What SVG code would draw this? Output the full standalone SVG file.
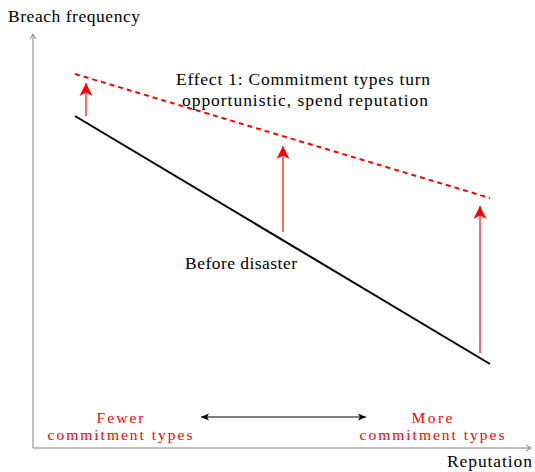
<svg xmlns="http://www.w3.org/2000/svg" width="535" height="472" viewBox="0 0 535 472">
  <style>
    text { font-family: "Liberation Serif", "Times New Roman", serif; font-size: 17.5px; fill: #000; }
    .red { fill: #ff0000; font-size: 15.5px; }
    .axis { stroke: #808080; stroke-width: 1; fill: none; }
    .up { stroke: #ff0000; stroke-width: 1.2; fill: none; }
  </style>
  <defs>
    <marker id="axisHead" markerWidth="8" markerHeight="8" refX="6" refY="4" orient="auto" markerUnits="userSpaceOnUse">
      <path d="M1,1 L6,4 L1,7" fill="none" stroke="#808080" stroke-width="1"/>
    </marker>
    <marker id="redHead" markerWidth="14" markerHeight="16" refX="13" refY="7" orient="auto" markerUnits="userSpaceOnUse">
      <path d="M13,7 L0,0.5 L3.5,7 L0,13.5 Z" fill="#ff0000"/>
    </marker>
    <marker id="blackHead" markerWidth="10" markerHeight="10" refX="8" refY="4" orient="auto-start-reverse" markerUnits="userSpaceOnUse">
      <path d="M8,4 L0,0.5 L2,4 L0,7.5 Z" fill="#000"/>
    </marker>
  </defs>

  <g id="connectors">
    <!-- axes -->
    <line class="axis" x1="33" y1="448" x2="33" y2="34" marker-end="url(#axisHead)"/>
    <line class="axis" x1="33" y1="448" x2="531" y2="448" marker-end="url(#axisHead)"/>
    <!-- breach frequency lines -->
    <line x1="75" y1="116" x2="490" y2="364" stroke="#000" stroke-width="2"/>
    <line x1="75" y1="74" x2="490" y2="198" stroke="#ff0000" stroke-width="2" stroke-dasharray="5,4"/>
    <!-- upward shifts -->
    <line class="up" x1="86" y1="116" x2="86" y2="83" marker-end="url(#redHead)"/>
    <line class="up" x1="283" y1="232" x2="283" y2="146" marker-end="url(#redHead)"/>
    <line class="up" x1="480" y1="353" x2="480" y2="206" marker-end="url(#redHead)"/>
    <!-- range arrow -->
    <line x1="201" y1="417" x2="366" y2="417" stroke="#000" stroke-width="1.2" marker-start="url(#blackHead)" marker-end="url(#blackHead)"/>
  </g>

  <g id="axis-y-label"><text x="8" y="22" textLength="132">Breach frequency</text></g>
  <g id="axis-x-label"><text x="447" y="467" textLength="85">Reputation</text></g>

  <g id="effect-label">
    <text x="303" y="85" text-anchor="middle" textLength="254">Effect 1: Commitment types turn</text>
    <text x="305" y="106" text-anchor="middle" textLength="246">opportunistic, spend reputation</text>
  </g>

  <g id="before-label"><text x="241" y="269" text-anchor="middle" textLength="112">Before disaster</text></g>

  <g id="fewer-label">
    <text class="red" x="120" y="423" text-anchor="middle" textLength="47">Fewer</text>
    <text class="red" x="120" y="440" text-anchor="middle" textLength="145">commitment types</text>
  </g>
  <g id="more-label">
    <text class="red" x="432" y="423" text-anchor="middle" textLength="41">More</text>
    <text class="red" x="432" y="440" text-anchor="middle" textLength="145">commitment types</text>
  </g>
</svg>
